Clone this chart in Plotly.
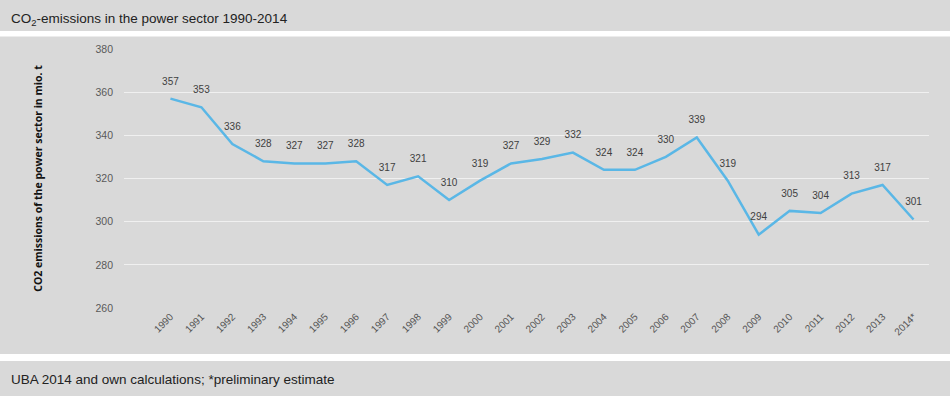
import plotly.graph_objects as go

years = ["1990", "1991", "1992", "1993", "1994", "1995", "1996", "1997", "1998", "1999",
         "2000", "2001", "2002", "2003", "2004", "2005", "2006", "2007", "2008", "2009",
         "2010", "2011", "2012", "2013", "2014*"]
emissions = [357, 353, 336, 328, 327, 327, 328, 317, 321, 310,
             319, 327, 329, 332, 324, 324, 330, 339, 319, 294,
             305, 304, 313, 317, 301]
y_ticks = [260, 280, 300, 320, 340, 360, 380]

title_text = "CO<sub>2</sub>-emissions in the power sector 1990-2014"
source_text = "UBA 2014 and own calculations; *preliminary estimate"
y_title = "<b>CO2 emissions of the power sector in mio. t</b>"

bg = "#d9d9d9"
xs = list(range(len(years)))

fig = go.Figure()
fig.add_trace(go.Scatter(
    x=xs, y=emissions,
    mode="lines",
    line=dict(color="#5ab7e6", width=2.5),
    hoverinfo="skip",
))
fig.add_trace(go.Scatter(
    x=xs, y=emissions,
    mode="markers+text",
    marker=dict(size=17, color="rgba(0,0,0,0)"),
    text=[str(v) for v in emissions],
    textposition="top center",
    textfont=dict(family="Liberation Sans, Arial", size=10, color="#404040"),
    cliponaxis=False,
    hoverinfo="skip",
))

fig.update_layout(
    width=950, height=396,
    paper_bgcolor=bg, plot_bgcolor=bg,
    margin=dict(l=124, r=21, t=49, b=88),
    showlegend=False,
    xaxis=dict(
        range=[-1.5, 24.5],
        tickmode="array",
        tickvals=xs,
        ticktext=years,
        tickangle=-45,
        showgrid=False, zeroline=False, showline=False,
        tickfont=dict(family="Liberation Sans, Arial", size=10, color="#555555"),
        ticks="",
    ),
    yaxis=dict(
        range=[260, 380],
        tickvals=y_ticks,
        showgrid=True, gridcolor="#f0f0f0", gridwidth=1,
        zeroline=False, showline=False,
        tickfont=dict(family="Liberation Sans, Arial", size=10.5, color="#5a5a5a"),
        ticks="", ticklabelstandoff=10,
        title=dict(text=y_title, font=dict(family="Open Sans, DejaVu Sans", size=10.5, color="#111111"),
                   standoff=50),
    ),
    shapes=[
        dict(type="rect", xref="paper", yref="paper", x0=-0.2, x1=1.1,
             y0=1 + (49 - 31) / 259, y1=1 + (49 - 36.5) / 259,
             fillcolor="white", line=dict(width=0), layer="below"),
        dict(type="rect", xref="paper", yref="paper", x0=-0.2, x1=1.1,
             y0=-(354 - 308) / 259, y1=-(361 - 308) / 259,
             fillcolor="white", line=dict(width=0), layer="below"),
    ],
    annotations=[
        dict(text=title_text, xref="paper", yref="paper",
             x=-115 / 805, y=1 + (49 - 19) / 259, xanchor="left", yanchor="middle",
             showarrow=False, font=dict(family="Liberation Sans, Arial", size=13.5, color="#222222")),
        dict(text=source_text, xref="paper", yref="paper",
             x=-115 / 805, y=-(380 - 308) / 259, xanchor="left", yanchor="middle",
             showarrow=False, font=dict(family="Liberation Sans, Arial", size=13.5, color="#222222")),
    ],
)

fig.write_html("out.html", config={"displayModeBar": False},
               post_script="document.body.style.margin='0';document.body.style.padding='0';")
